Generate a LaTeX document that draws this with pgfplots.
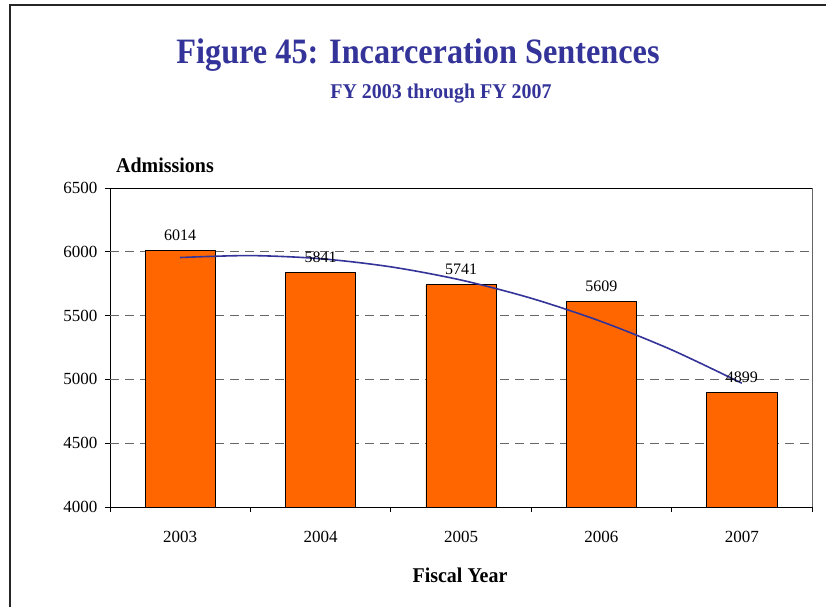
\documentclass[border=0pt]{standalone}
\usepackage{pgfplots}
\pgfplotsset{compat=1.18}
\usepackage{fontspec}
\setmainfont{Liberation Serif}
\definecolor{barorange}{HTML}{FF6600}
\definecolor{titleblue}{HTML}{333399}
\definecolor{trendblue}{HTML}{333399}
\begin{document}
\begin{tikzpicture}
\useasboundingbox (0,0) rectangle (826pt,-606pt);
\draw[line width=2pt,black!85] (10pt,-640pt) -- (10pt,-5pt) -- (840pt,-5pt);
\node[font=\fontsize{34}{38}\selectfont\bfseries,text=titleblue] at (418pt,-55pt) {\scalebox{0.95}[1.05]{Figure 45: Incarceration Sentences}};
\node[font=\fontsize{21}{24}\selectfont\bfseries,text=titleblue] at (441pt,-94pt) {\scalebox{0.95}[1]{FY 2003 through FY 2007}};
\node[font=\fontsize{21}{24}\selectfont\bfseries] at (165pt,-165pt) {\scalebox{0.95}[1]{Admissions}};
\node[font=\fontsize{21}{24}\selectfont\bfseries] at (460pt,-575pt) {\scalebox{0.95}[1]{Fiscal Year}};
\begin{axis}[
  at={(110pt,-507pt)}, anchor=south west,
  scale only axis, width=702pt, height=319pt,
  xmin=-0.5, xmax=4.5, ymin=4000, ymax=6500,
  xtick={-0.5,0.5,1.5,2.5,3.5,4.5}, xticklabels={},
  extra x ticks={0,1,2,3,4},
  extra x tick labels={2003,2004,2005,2006,2007},
  extra x tick style={major tick length=0pt, xticklabel style={yshift=-21pt}},
  ytick={4000,4500,5000,5500,6000,6500},
  yticklabel style={xshift=-4pt},
  tick align=outside, major tick length=5pt,
  x tick style={black, line width=0.8pt}, y tick style={black, line width=0.8pt},
  xtick pos=bottom, ytick pos=left,
  tick label style={font=\fontsize{17}{20}\selectfont},
  /pgf/number format/assume math mode=true,
  /pgf/number format/1000 sep={},
  axis line style={line width=0.8pt},
  clip=false,
]
\draw[black!60, dash pattern=on 9pt off 6pt, line width=0.9pt] 
  (axis cs:-0.5,4500) -- (axis cs:4.5,4500)
  (axis cs:-0.5,5000) -- (axis cs:4.5,5000)
  (axis cs:-0.5,5500) -- (axis cs:4.5,5500)
  (axis cs:-0.5,6000) -- (axis cs:4.5,6000);
\draw[black!60, line width=1pt] (axis cs:4.5,4000) -- (axis cs:4.5,6500);
\addplot[ybar, bar width=0.5, fill=barorange, draw=black, line width=0.8pt,
  nodes near coords, nodes near coords style={font=\fontsize{16}{19}\selectfont, black, yshift=6pt},
  point meta=explicit symbolic]
  coordinates {(0,6014)[6014] (1,5841)[5841] (2,5741)[5741] (3,5609)[5609] (4,4899)[4899]};
\addplot[trendblue, line width=1.6pt, smooth, no marks]
  coordinates {(0,5955.2) (0.5,5970.4) (1,5946.0) (1.5,5882.2) (2,5778.8) (2.5,5636.0) (3,5453.6) (3.5,5231.8) (4,4970.4)};
\end{axis}
\end{tikzpicture}
\end{document}
